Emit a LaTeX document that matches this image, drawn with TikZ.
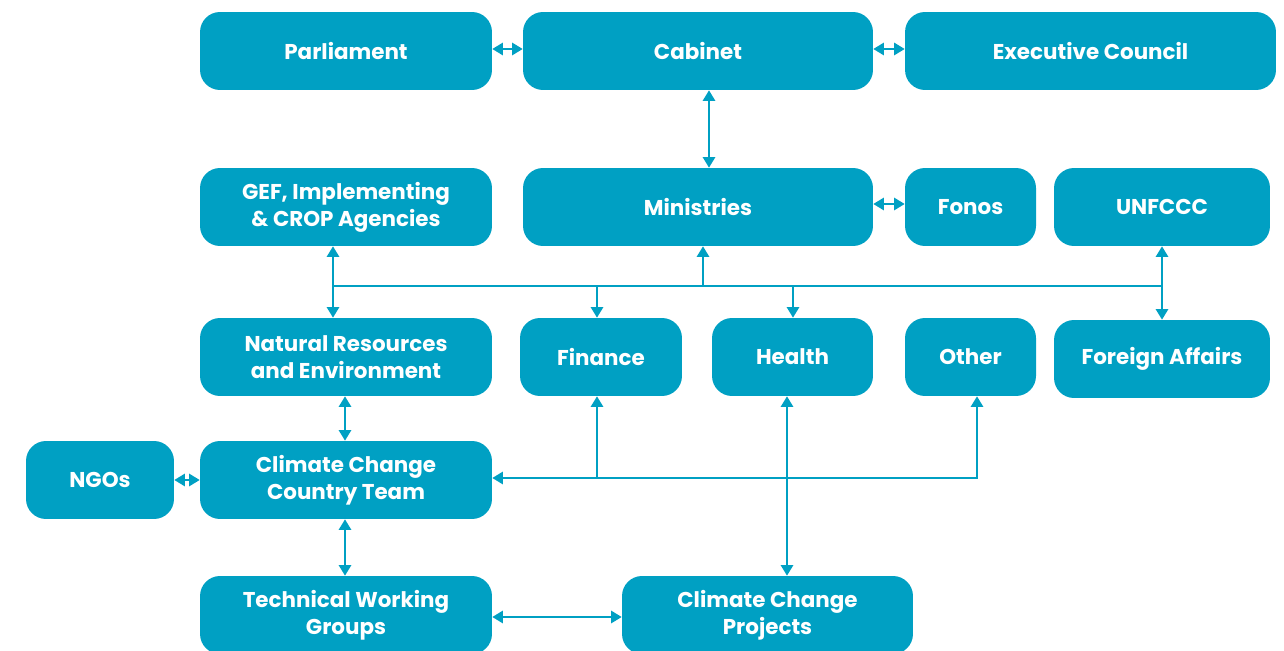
\documentclass[tikz,border=0pt]{standalone}
\usepackage{fontspec}
\setmainfont{Poppins}
\usepackage{xcolor}
\usetikzlibrary{arrows.meta}
\definecolor{teal}{HTML}{00A0C3}

\begin{document}
\begin{tikzpicture}[x=0.02cm,y=-0.02cm,font=\fontsize{12.2}{15.5}\selectfont\bfseries,
    box/.style={rectangle,rounded corners=0.4cm,fill=teal,text=white,align=center,
        inner sep=0pt,minimum height=1.56cm},
    link/.style={draw=teal,line width=1.1pt,{Triangle[width=7pt,length=6pt]}-{Triangle[width=7pt,length=6pt]}},
    lend/.style={draw=teal,line width=1.1pt,-{Triangle[width=7pt,length=6pt]}},
    line/.style={draw=teal,line width=1.1pt}]
    \useasboundingbox (0,0) rectangle (1284,651);

    \node[box,name=parl,minimum width=5.84cm] at (346,51) {Parliament};
    \node[box,name=cab,minimum width=7cm] at (698,51) {Cabinet};
    \node[box,name=exe,minimum width=7.42cm] at (1090.5,51) {Executive Council};

    \node[box,name=gef,minimum width=5.84cm] at (346,207) {GEF, Implementing\\\& CROP Agencies};
    \node[box,name=min,minimum width=7cm] at (698,207) {Ministries};
    \node[box,name=fon,minimum width=2.62cm] at (970.5,207) {Fonos};
    \node[box,name=unf,minimum width=4.32cm] at (1162,207) {UNFCCC};

    \node[box,name=nre,minimum width=5.84cm] at (346,357) {Natural Resources\\and Environment};
    \node[box,name=fin,minimum width=3.24cm] at (601,357) {Finance};
    \node[box,name=hea,minimum width=3.22cm] at (792.5,357) {Health};
    \node[box,name=oth,minimum width=2.62cm] at (970.5,357) {Other};
    \node[box,name=fa,minimum width=4.32cm] at (1162,359) {Foreign Affairs};

    \node[box,name=ngo,minimum width=2.96cm] at (100,480) {NGOs};
    \node[box,name=ccct,minimum width=5.84cm] at (346,480) {Climate Change\\Country Team};

    \node[box,name=twg,minimum width=5.84cm] at (346,615) {Technical Working\\Groups};
    \node[box,name=ccp,minimum width=5.82cm] at (767.5,615) {Climate Change\\Projects};

    % junctions
    \coordinate (b1) at (333,286);
    \coordinate (b2) at (703,286);
    \coordinate (b3) at (597,286);
    \coordinate (b4) at (793,286);
    \coordinate (b5) at (1162,286);
    \coordinate (o1) at (977,478);
    \coordinate (f1) at (597,478);
    \coordinate (h1) at (787,0);
    \coordinate (c1) at (345,0);
    \coordinate (m1) at (709,0);

    \path[link] (parl.east |- 0,49) -- (cab.west |- 0,49);
    \path[link] (cab.east |- 0,49) -- (exe.west |- 0,49);
    \path[link] (m1 |- cab.south) -- (m1 |- min.north);
    \path[link] (min.east |- 0,204) -- (fon.west |- 0,204);

    \path[line] (b1) -- (b5);
    \path[link] (b1 |- gef.south) -- (b1 |- nre.north);
    \path[lend] (b2) -- (b2 |- min.south);
    \path[lend] (b3) -- (b3 |- fin.north);
    \path[lend] (b4) -- (b4 |- hea.north);
    \path[link] (b5 |- unf.south) -- (b5 |- fa.north);

    \path[link] (c1 |- nre.south) -- (c1 |- ccct.north);
    \path[link] (ngo.east) -- (ccct.west);
    \path[link] (ccct.east |- o1) -- (o1) -- (o1 |- oth.south);
    \path[lend] (f1) -- (f1 |- fin.south);
    \path[link] (h1 |- hea.south) -- (h1 |- ccp.north);
    \path[link] (c1 |- ccct.south) -- (c1 |- twg.north);
    \path[link] (twg.east |- 0,617) -- (ccp.west |- 0,617);
\end{tikzpicture}
\end{document}
